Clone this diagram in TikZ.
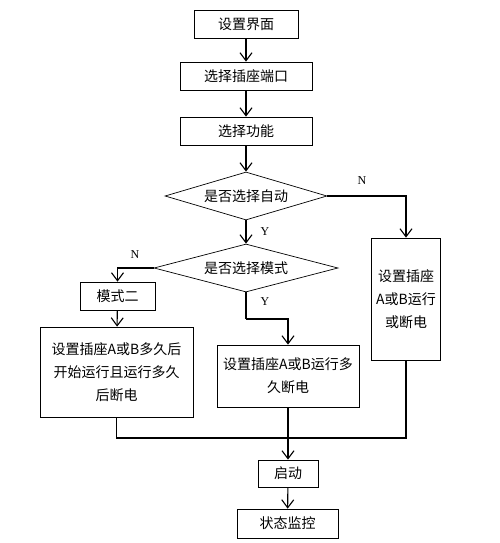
\documentclass[tikz,border=0pt]{standalone}
\usepackage{fontspec}
\setmainfont{Liberation Serif}
\newfontfamily\cjk{Noto Sans CJK SC}
\usetikzlibrary{arrows.meta,shapes.geometric}
\tikzset{
  box/.style={draw, line width=0.7pt, inner sep=0pt, align=center,
    font=\cjk\fontsize{14}{23}\selectfont},
  dia/.style={draw, diamond, line width=0.7pt, inner sep=0pt, aspect=3.4,
    font=\cjk\fontsize{14}{16}\selectfont},
  conn/.style={line width=1.1pt},
  arr/.style={conn, -{Straight Barb[length=8pt,width=12pt,line width=1.1pt]}},
  lbl/.style={font=\fontsize{12}{14}\selectfont, inner sep=0pt}
}
\begin{document}
\begin{tikzpicture}[x=1pt,y=-1pt]
\useasboundingbox (0,0) rectangle (500,543);
\node[box, minimum width=104pt, minimum height=28pt] (b1) at (246,24) {设置界面};
\node[box, minimum width=132pt, minimum height=28pt] (b2) at (246,76) {选择插座端口};
\node[box, minimum width=132pt, minimum height=28pt] (b3) at (246,131) {选择功能};
\node[dia, minimum width=162pt, minimum height=48pt] (d1) at (246,196) {是否选择自动};
\node[dia, minimum width=184pt, minimum height=48pt] (d2) at (246,268) {是否选择模式};
\node[box, minimum width=69pt, minimum height=122pt] (r) at (406,299) {设置插座\\A或B运行\\或断电};
\node[box, minimum width=75pt, minimum height=28pt] (m) at (117.5,296) {模式二};
\node[box, minimum width=153pt, minimum height=90pt] (L) at (116.5,372) {设置插座A或B多久后\\开始运行且运行多久\\后断电};
\node[box, minimum width=142pt, minimum height=62pt] (M) at (288,376) {设置插座A或B运行多\\久断电};
\node[box, minimum width=60pt, minimum height=27pt] (s) at (288,473.5) {启动};
\node[box, minimum width=101pt, minimum height=29pt] (t) at (287.5,523.5) {状态监控};
\coordinate (J) at (288,438);
\coordinate (K) at (246,319);

\draw[arr] (b1) -- (b2);
\draw[arr] (b2) -- (b3);
\draw[arr] (b3) -- (d1);
\draw[arr] (d1) -- (d2);
\draw[arr] (d1.east) -| (r.north);
\draw[arr] (d2.west) -| (m.north);
\draw[arr] (m) -- (L);
\draw[conn] (d2.south) -- (K);
\draw[arr] (K) -| (M.north);
\draw[conn] (L.south) |- (J);
\draw[conn] (r.south) |- (J);
\draw[arr] (M.south) -- (s.north);
\draw[arr] (s) -- (t);

\node[lbl] (yl1) at (265,232) {Y};
\node[lbl] (nl1) at (362,181) {N};
\node[lbl] (nl2) at (135,255) {N};
\node[lbl] (yl2) at (265,302) {Y};
\end{tikzpicture}
\end{document}
